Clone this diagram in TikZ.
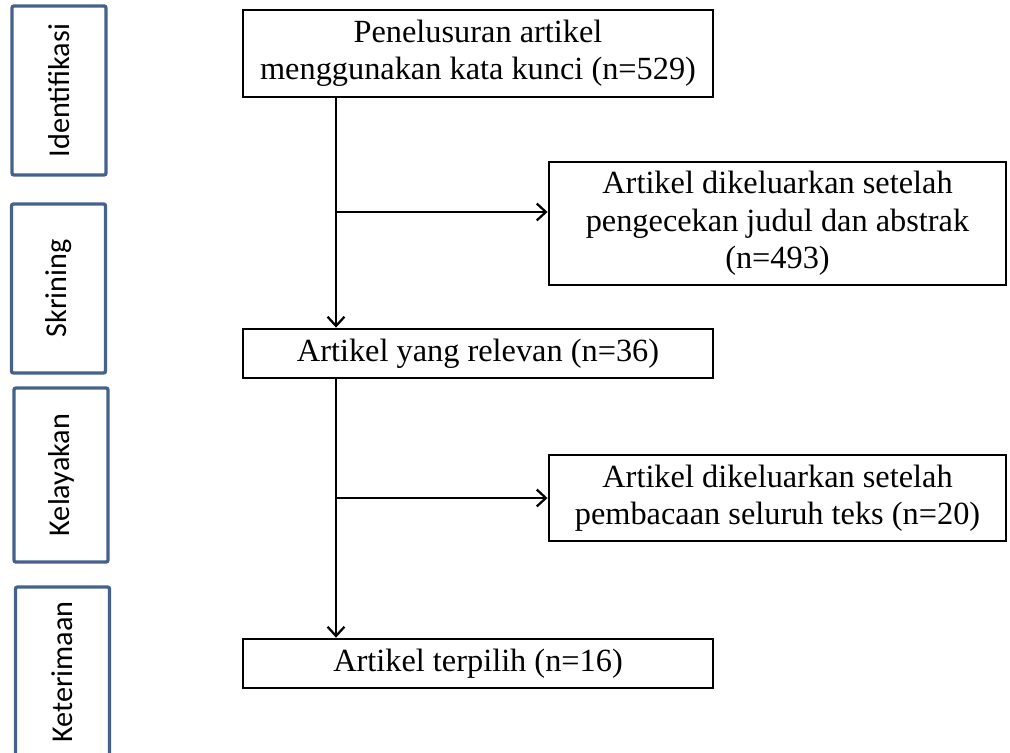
\documentclass[tikz,border=0pt]{standalone}
\usepackage{fontspec}
\setmainfont{Liberation Serif}
\newfontfamily\sidefont{Carlito}
\usetikzlibrary{arrows.meta}
\definecolor{phaseblue}{RGB}{68,98,140}
\tikzset{
  flowbox/.style={draw, line width=2pt, inner sep=0pt, align=center,
    font=\fontsize{23}{26.6}\selectfont},
  phase/.style={draw=phaseblue, line width=2.4pt, rounded corners=1.5pt, rotate=90, inner sep=0pt,
    minimum height=2.35cm, font=\sidefont\fontsize{21.5}{25}\selectfont},
  flow/.style={line width=1.6pt, -{Straight Barb[length=6.5pt,width=12pt]}}
}
\begin{document}
\begin{tikzpicture}[x=0.025cm, y=-0.025cm]
      \clip (0,0) rectangle (1010,753);
      \draw
        (59,90.5) node[phase, minimum width=4.225cm] (ident){Identifikasi}
        (58.5,288.5) node[phase, minimum width=4.225cm] (skrin){Skrining}
        (61,475) node[phase, minimum width=4.35cm] (layak){Kelayakan}
        (62.5,672) node[phase, minimum width=4.25cm] (terima){Keterimaan};
      \draw
        (478,53.5) node[flowbox, minimum width=11.75cm, minimum height=2.175cm] (search){Penelusuran artikel\\menggunakan kata kunci (n=529)}
        (777.5,223.5) node[flowbox, minimum width=11.425cm, minimum height=3.075cm] (excl1){Artikel dikeluarkan setelah\\pengecekan judul dan abstrak\\(n=493)}
        (478,353.5) node[flowbox, minimum width=11.75cm, minimum height=1.225cm] (relevant){Artikel yang relevan (n=36)}
        (777.5,498) node[flowbox, minimum width=11.425cm, minimum height=2.15cm] (excl2){Artikel dikeluarkan setelah\\pembacaan seluruh teks (n=20)}
        (478,663.5) node[flowbox, minimum width=11.75cm, minimum height=1.225cm] (chosen){Artikel terpilih (n=16)};
      \coordinate (trunk) at (336,0);
      \coordinate (split1) at (336,212);
      \coordinate (split2) at (336,498);
      \begin{scope}[flow]
        \draw (search.south -| trunk) to (relevant.north -| trunk);
        \draw (split1) to (split1 -| excl1.west);
        \draw (relevant.south -| trunk) to (chosen.north -| trunk);
        \draw (split2) to (excl2.west);
      \end{scope}
    \end{tikzpicture}
\end{document}
